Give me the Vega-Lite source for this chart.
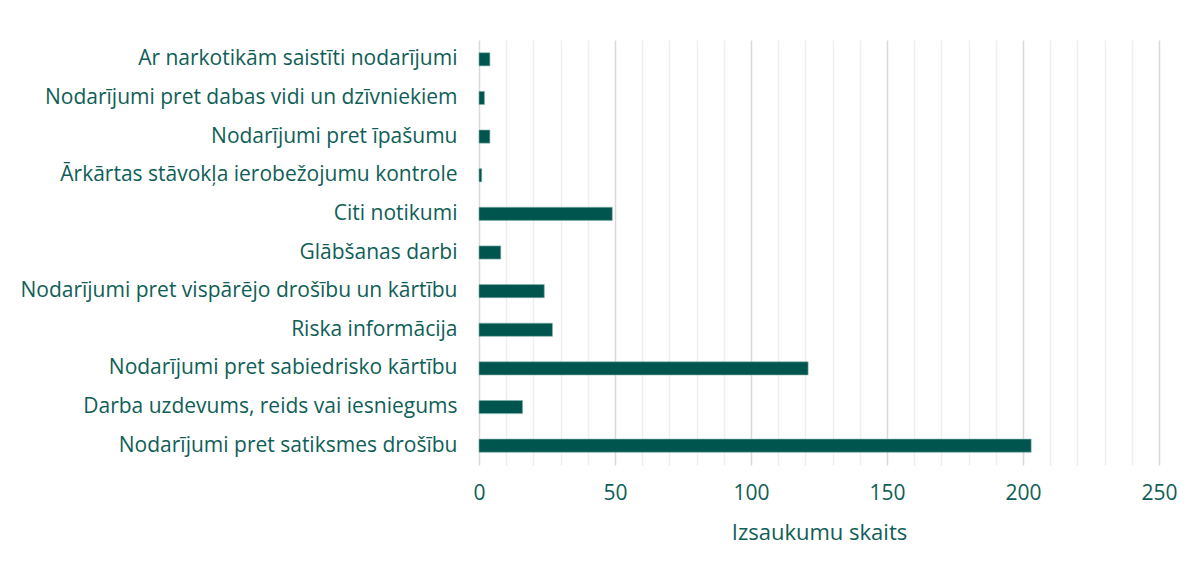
{
  "$schema": "https://vega.github.io/schema/vega-lite/v6.json",
  "autosize": "none",
  "width": 680,
  "height": 425,
  "padding": {"left": 479, "top": 40, "right": 36, "bottom": 110},
  "background": "white",
  "config": {"view": {"stroke": null}, "font": "Open Sans"},
  "data": {
    "values": [
      {"kategorija": "Ar narkotikām saistīti nodarījumi", "skaits": 4},
      {"kategorija": "Nodarījumi pret dabas vidi un dzīvniekiem", "skaits": 2},
      {"kategorija": "Nodarījumi pret īpašumu", "skaits": 4},
      {"kategorija": "Ārkārtas stāvokļa ierobežojumu kontrole", "skaits": 1},
      {"kategorija": "Citi notikumi", "skaits": 49},
      {"kategorija": "Glābšanas darbi", "skaits": 8},
      {"kategorija": "Nodarījumi pret vispārējo drošību un kārtību", "skaits": 24},
      {"kategorija": "Riska informācija", "skaits": 27},
      {"kategorija": "Nodarījumi pret sabiedrisko kārtību", "skaits": 121},
      {"kategorija": "Darba uzdevums, reids vai iesniegums", "skaits": 16},
      {"kategorija": "Nodarījumi pret satiksmes drošību", "skaits": 203}
    ]
  },
  "mark": {"type": "bar", "color": "#00564f", "stroke": "#7fb0aa", "strokeWidth": 0.6},
  "encoding": {
    "y": {
      "field": "kategorija",
      "type": "nominal",
      "sort": null,
      "scale": {"paddingInner": 0.66, "paddingOuter": 0.33},
      "axis": {
        "title": null,
        "domain": false,
        "ticks": false,
        "labelPadding": 22,
        "labelFontSize": 21,
        "labelColor": "#0f5e57",
        "labelLimit": 500
      }
    },
    "x": {
      "field": "skaits",
      "type": "quantitative",
      "scale": {"domain": [0, 250], "nice": false},
      "axis": {
        "title": "Izsaukumu skaits",
        "titleFontSize": 22,
        "titleFontWeight": "normal",
        "titleColor": "#0f5e57",
        "titlePadding": 19,
        "values": [0,10,20,30,40,50,60,70,80,90,100,110,120,130,140,150,160,170,180,190,200,210,220,230,240,250],
        "labelExpr": "datum.value % 50 === 0 ? datum.label : ''",
        "labelFlush": false,
        "labelFontSize": 21,
        "labelColor": "#0f5e57",
        "labelPadding": 17,
        "domain": false,
        "ticks": false,
        "grid": true,
        "gridColor": {"condition": {"test": "datum.value % 50 === 0", "value": "#d9d9d9"}, "value": "#eeeeee"},
        "gridWidth": 1.5
      }
    }
  }
}
